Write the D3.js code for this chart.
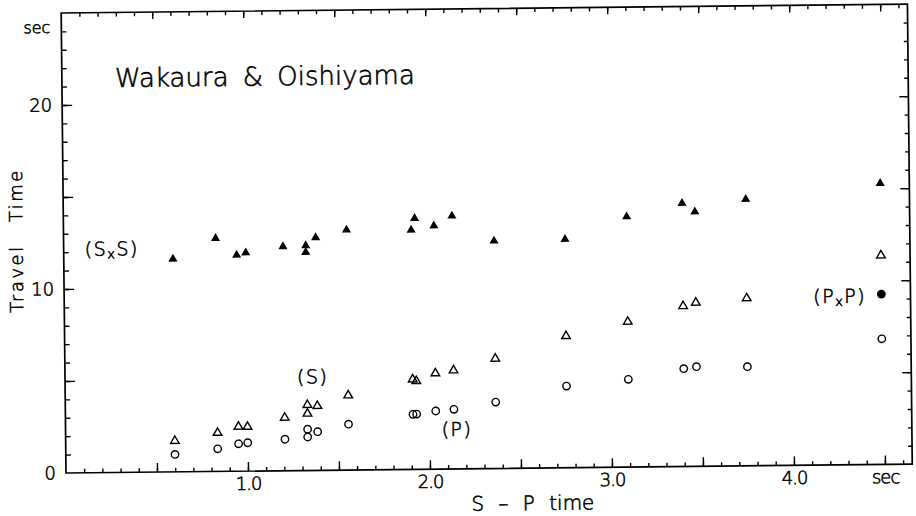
<!DOCTYPE html>
<html>
<head>
<meta charset="utf-8">
<script src="https://cdn.jsdelivr.net/npm/d3@7"></script>
<style>
body { margin: 0; background: #fff; }
svg text { font-family: "DejaVu Sans ExtraLight", "DejaVu Sans", sans-serif; font-weight: 200; fill: #000; stroke: #000; stroke-width: 0.55; }
</style>
</head>
<body>
<div id="chart"></div>
<script>
// S-P time of each event (sec)
var spTime  = [0.60, 0.835, 0.95, 1.0, 1.205, 1.33, 1.33, 1.385, 1.555, 1.91, 1.93, 2.035, 2.135, 2.365, 2.755, 3.095, 3.40, 3.47, 3.75, 4.49];
// travel times (sec)
var pTime   = [0.95, 1.23, 1.49, 1.54, 1.71, 1.82, 2.24, 2.10, 2.49, 2.99, 3.00, 3.16, 3.24, 3.61, 4.44, 4.77, 5.32, 5.42, 5.39, 6.83];
var sTime   = [1.68, 2.10, 2.42, 2.41, 2.88, 3.09, 3.56, 3.50, 4.06, 4.89, 4.80, 5.21, 5.36, 5.97, 7.16, 7.90, 8.72, 8.90, 9.11, 11.36];
var sxsTime = [11.57, 12.67, 11.75, 11.87, 12.18, 11.86, 12.22, 12.65, 13.05, 13.01, 13.64, 13.23, 13.75, 12.37, 12.42, 13.61, 14.31, 13.84, 14.49, 15.28];
var pxpSP   = [4.49];
var pxpTime = [9.26];

var xTickVals   = [1, 2, 3, 4, 4.5];
var xTickLabels = ["1.0", "2.0", "3.0", "4.0", "sec"];
var yTickVals   = [0, 10, 20];
var yTickLabels = ["0", "10", "20"];

var width = 916, height = 516;
var x0 = 66, y0 = 473;

var x = d3.scaleLinear().domain([0, 4.65]).range([x0, x0 + 4.65 * 182]);
var y = d3.scaleLinear().domain([0, 25]).range([y0, y0 - 25 * 18.4]);

var svg = d3.select("#chart")
  .append("svg")
    .attr("width", width)
    .attr("height", height);

svg.append("rect")
  .attr("width", width)
  .attr("height", height)
  .attr("fill", "#fff");

// the scanned figure is tilted slightly
var g = svg.append("g")
  .attr("transform", "rotate(-0.6," + x0 + "," + y0 + ")");

var minorX = d3.range(1, 47).map(function(d) { return d / 10; });
var majorX = d3.range(1, 10).map(function(d) { return d / 2; });
var minorY = d3.range(1, 25);
var majorY = [5, 10, 15, 20];

function tickGroup(axis, tf) {
  var a = g.append("g").attr("transform", tf).call(axis);
  a.select(".domain").remove();
  a.selectAll("line").attr("stroke", "#000").attr("stroke-width", 1.4);
  return a;
}

// bottom
tickGroup(d3.axisBottom(x).tickValues(minorX).tickSize(-4).tickFormat(""), "translate(0," + y0 + ")");
tickGroup(d3.axisBottom(x).tickValues(majorX).tickSize(-9).tickFormat(""), "translate(0," + y0 + ")");
var xl = tickGroup(d3.axisBottom(x).tickValues(xTickVals).tickSize(0).tickPadding(6)
  .tickFormat(function(d, i) { return xTickLabels[i]; }), "translate(0," + y0 + ")");
xl.selectAll("text").attr("font-size", 18).attr("letter-spacing", -1).attr("fill", "#000");

// top
tickGroup(d3.axisTop(x).tickValues(minorX).tickSize(-4).tickFormat(""), "translate(0," + y(25) + ")");
tickGroup(d3.axisTop(x).tickValues(majorX).tickSize(-7).tickFormat(""), "translate(0," + y(25) + ")");

// left
tickGroup(d3.axisLeft(y).tickValues(minorY).tickSize(-5).tickFormat(""), "translate(" + x0 + ",0)");
tickGroup(d3.axisLeft(y).tickValues(majorY).tickSize(-10).tickFormat(""), "translate(" + x0 + ",0)");
var yl = tickGroup(d3.axisLeft(y).tickValues(yTickVals).tickSize(0).tickPadding(10)
  .tickFormat(function(d, i) { return yTickLabels[i]; }), "translate(" + x0 + ",0)");
yl.selectAll("text").attr("font-size", 18).attr("fill", "#000");

// right
tickGroup(d3.axisRight(y).tickValues(minorY).tickSize(-4).tickFormat(""), "translate(" + x(4.65) + ",0)");
tickGroup(d3.axisRight(y).tickValues(majorY).tickSize(-9).tickFormat(""), "translate(" + x(4.65) + ",0)");

// frame
g.append("rect")
  .attr("x", x(0))
  .attr("y", y(25))
  .attr("width", x(4.65) - x(0))
  .attr("height", y(0) - y(25))
  .attr("fill", "none")
  .attr("stroke", "#000")
  .attr("stroke-width", 1.7);

g.append("text")
  .attr("x", x0 - 11)
  .attr("y", y(24) + 1.5)
  .attr("text-anchor", "end")
  .attr("font-size", 16)
  .text("sec");

// points
var tri = d3.symbol().type(d3.symbolTriangle).size(36);
var triOpen = d3.symbol().type(d3.symbolTriangle).size(32);

g.selectAll(".sxs")
  .data(spTime)
  .join("path")
    .attr("class", "sxs")
    .attr("d", tri)
    .attr("transform", function(d, i) { return "translate(" + x(d) + "," + y(sxsTime[i]) + ")"; })
    .attr("fill", "#000");

g.selectAll(".s")
  .data(spTime)
  .join("path")
    .attr("class", "s")
    .attr("d", triOpen)
    .attr("transform", function(d, i) { return "translate(" + x(d) + "," + y(sTime[i]) + ")"; })
    .attr("fill", "none")
    .attr("stroke", "#000")
    .attr("stroke-width", 1.4);

g.selectAll(".p")
  .data(spTime)
  .join("circle")
    .attr("class", "p")
    .attr("cx", function(d) { return x(d); })
    .attr("cy", function(d, i) { return y(pTime[i]); })
    .attr("r", 3.7)
    .attr("fill", "none")
    .attr("stroke", "#000")
    .attr("stroke-width", 1.4);

g.selectAll(".pxp")
  .data(pxpSP)
  .join("circle")
    .attr("class", "pxp")
    .attr("cx", function(d) { return x(d); })
    .attr("cy", function(d, i) { return y(pxpTime[i]); })
    .attr("r", 4.4)
    .attr("fill", "#000");

// labels
g.append("text")
  .attr("x", 119)
  .attr("y", 87.5)
  .attr("font-size", 26)
  .attr("word-spacing", 6)
  .text("Wakaura & Oishiyama");

function phase(px, py, a, sub, b) {
  var t = g.append("text").attr("x", px).attr("y", py).attr("font-size", 19).attr("letter-spacing", 1.5);
  t.append("tspan").text("(" + a);
  if (sub) {
    t.append("tspan").attr("font-size", 13).attr("dy", 3).text(sub);
    t.append("tspan").attr("dy", -3).text(b + ")");
  } else {
    t.append("tspan").text(")");
  }
}
phase(87, 256, "S", "x", "S");
phase(298, 386, "S");
phase(442, 440, "P");
phase(815, 311, "P", "x", "P");

g.append("text")
  .attr("x", 471)
  .attr("y", 515)
  .attr("font-size", 20)
  .attr("word-spacing", 8)
  .text("S \u2013 P time");

g.append("text")
  .attr("transform", "translate(25,240) rotate(-90)")
  .attr("text-anchor", "middle")
  .attr("font-size", 18)
  .attr("letter-spacing", 2.5)
  .attr("word-spacing", 14)
  .text("Travel Time");
</script>
</body>
</html>
